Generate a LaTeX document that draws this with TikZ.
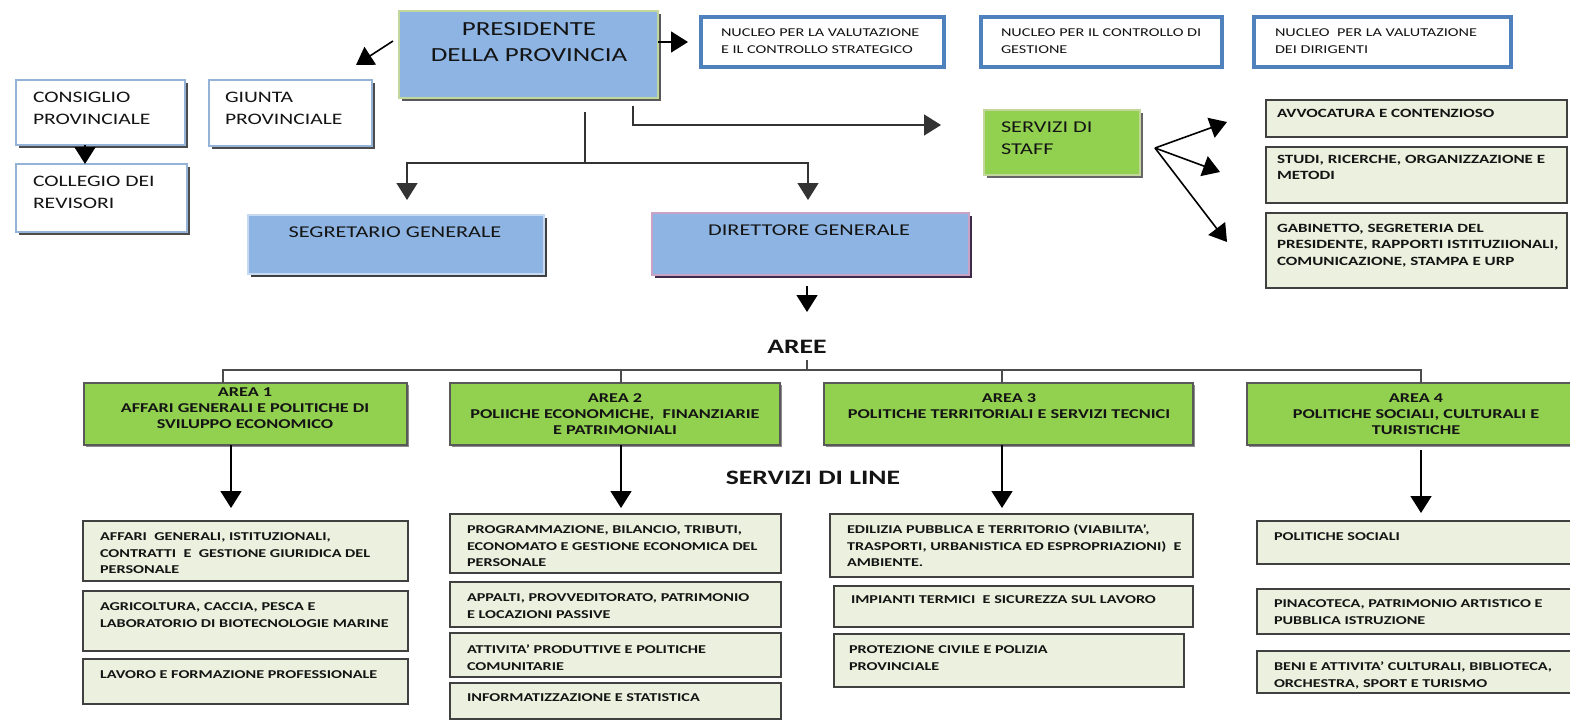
\documentclass[tikz,border=0pt]{standalone}
\usepackage{fontspec}
\setmainfont{Carlito}[FakeStretch=1.35]
\usetikzlibrary{arrows.meta,shadows,calc}
\definecolor{blueF}{HTML}{8DB4E2}
\definecolor{greenF}{HTML}{92D050}
\definecolor{paleF}{HTML}{EBF1DE}
\definecolor{nucB}{HTML}{4F81BD}
\definecolor{whB}{HTML}{95B3D7}
\definecolor{olB}{HTML}{C3D69B}
\definecolor{pinkB}{HTML}{C9A3C5}
\definecolor{segB}{HTML}{C6D9F1}
\definecolor{txt}{HTML}{141414}
\definecolor{dirS}{HTML}{3D2B4A}
\newcommand\mkbox[6]{\node[#2, minimum width={#5-#3}, minimum height={#6-#4}] (#1) at ({(#3+#5)/2},{(#4+#6)/2}) {};}
\tikzset{
  shad/.style={drop shadow={shadow xshift=2.5pt, shadow yshift=-2.5pt, fill=#1, opacity=1}},
  bluebig/.style={fill=blueF, draw=olB, line width=2pt, shad=black!65},
  segbox/.style={fill=blueF, draw=segB, line width=1.5pt, shad=black!75},
  dirbox/.style={fill=blueF, draw=pinkB, line width=1.5pt, shad=dirS},
  wbox/.style={fill=white, draw=whB, line width=1.5pt, shad=black!70},
  nbox/.style={fill=white, draw=nucB, line width=4pt},
  gbox/.style={fill=greenF, draw=olB, line width=1.5pt, shad=black!60},
  abox/.style={fill=greenF, draw=black!65, line width=1.2pt, drop shadow={shadow xshift=1.5pt, shadow yshift=-1.5pt, fill=black!45, opacity=1}},
  pbox/.style={fill=paleF, draw=black!75, line width=1.2pt},
  arr/.style={draw=black, line width=1.6pt, -{Triangle[length=17pt,width=21pt]}},
  brk/.style={draw=black!70, line width=1.4pt},
  tbig/.style={font=\fontsize{20}{26}\selectfont, align=center},
  tsixteen/.style={font=\fontsize{16}{22.5}\selectfont, align=left},
  tmid/.style={font=\fontsize{16.5}{22}\selectfont, align=center},
  tnuc/.style={font=\fontsize{12}{16.5}\selectfont, align=left},
  tstaff/.style={font=\bfseries\fontsize{12.6}{16.5}\selectfont, align=left},
  tarea/.style={font=\bfseries\fontsize{13.5}{16}\selectfont, align=center},
  tline/.style={font=\bfseries\fontsize{12}{16.5}\selectfont, align=left, yshift=-2pt},
  thead/.style={font=\bfseries\fontsize{20.5}{24}\selectfont},
}
\begin{document}
\begin{tikzpicture}[x=1pt, y=-1pt, every node/.style={inner sep=0pt, outer sep=0pt, text=txt}]
\fill[white] (0,0) rectangle (1570,720);
\useasboundingbox (0,0) rectangle (1570,720);

% ---- top level ----
\mkbox{pres}{bluebig}{399}{11}{658}{98}
\node[tbig, anchor=north] (pres-t) at (529,23) {PRESIDENTE\\DELLA PROVINCIA};

\mkbox{cons}{wbox}{16}{80}{185}{145}
\mkbox{giunta}{wbox}{209}{80}{372}{146}
\mkbox{coll}{wbox}{16}{164}{187}{232}
\node[tsixteen, anchor=north west] (cons-t) at (33,92) {CONSIGLIO\\PROVINCIALE};
\node[tsixteen, anchor=north west] (giunta-t) at (225,92) {GIUNTA\\PROVINCIALE};
\node[tsixteen, anchor=north west] (coll-t) at (33,176) {COLLEGIO DEI\\REVISORI};

\mkbox{nuc1}{nbox}{701}{17}{944}{67}
\mkbox{nuc2}{nbox}{981}{17}{1222}{67}
\mkbox{nuc3}{nbox}{1254}{17}{1511}{67}
\node[tnuc, anchor=north west] (nuc1-t) at (721,29) {NUCLEO PER LA VALUTAZIONE\\E IL CONTROLLO STRATEGICO};
\node[tnuc, anchor=north west] (nuc2-t) at (1001,29) {NUCLEO PER IL CONTROLLO DI\\GESTIONE};
\node[tnuc, anchor=north west] (nuc3-t) at (1275,29) {NUCLEO\ \ PER LA VALUTAZIONE\\DEI DIRIGENTI};

\mkbox{segr}{segbox}{248}{215}{544}{274}
\node[tmid, anchor=north] (segr-t) at (395,227) {SEGRETARIO GENERALE};
\mkbox{dir}{dirbox}{652}{213}{969}{275}
\node[tmid, anchor=north] (dir-t) at (809,225) {DIRETTORE GENERALE};

\mkbox{staff}{gbox}{984}{110}{1140}{175}
\node[tsixteen, font=\fontsize{16.5}{22}\selectfont, anchor=north west] (staff-t) at (1001,122) {SERVIZI DI\\STAFF};

\mkbox{st1}{pbox}{1266}{100}{1567}{137}
\mkbox{st2}{pbox}{1266}{147}{1567}{203}
\mkbox{st3}{pbox}{1266}{213}{1567}{288}
\node[tstaff, anchor=north west] (st1-t) at (1277,109) {AVVOCATURA E CONTENZIOSO};
\node[tstaff, anchor=north west] (st2-t) at (1277,155) {STUDI, RICERCHE, ORGANIZZAZIONE E\\METODI};
\node[tstaff, anchor=north west] (st3-t) at (1277,224) {GABINETTO, SEGRETERIA DEL\\PRESIDENTE, RAPPORTI ISTITUZIIONALI,\\COMUNICAZIONE, STAMPA E URP};

% ---- areas ----
\node[thead, anchor=north] (aree) at (797,340) {AREE};
\node[thead, anchor=north] (linea) at (813,471) {SERVIZI DI LINE};

\mkbox{a1}{abox}{84}{383}{407}{445}
\mkbox{a2}{abox}{450}{383}{780}{445}
\mkbox{a3}{abox}{824}{383}{1193}{445}
\mkbox{a4}{abox}{1247}{383}{1586}{445}
\node[tarea, anchor=north] (a1-t) at (245,388) {AREA 1\\AFFARI GENERALI E POLITICHE DI\\SVILUPPO ECONOMICO};
\node[tarea, anchor=north] (a2-t) at (615,394) {AREA 2\\POLIICHE ECONOMICHE,\ \ FINANZIARIE\\E PATRIMONIALI};
\node[tarea, anchor=north] (a3-t) at (1009,394) {AREA 3\\POLITICHE TERRITORIALI E SERVIZI TECNICI};
\node[tarea, anchor=north] (a4-t) at (1416,394) {AREA 4\\POLITICHE SOCIALI, CULTURALI E\\TURISTICHE};

% ---- line services ----
\mkbox{c11}{pbox}{83}{521}{408}{581}
\mkbox{c12}{pbox}{83}{591}{408}{651}
\mkbox{c13}{pbox}{83}{659}{408}{704}
\node[tline, anchor=north west] (c11-t) at (100,531) {AFFARI\ \ GENERALI, ISTITUZIONALI,\\CONTRATTI\ \ E\ \ GESTIONE GIURIDICA DEL\\PERSONALE};
\node[tline, anchor=north west] (c12-t) at (100,601) {AGRICOLTURA, CACCIA, PESCA E\\LABORATORIO DI BIOTECNOLOGIE MARINE};
\node[tline, anchor=north west] (c13-t) at (100,669) {LAVORO E FORMAZIONE PROFESSIONALE};

\mkbox{c21}{pbox}{450}{514}{781}{573}
\mkbox{c22}{pbox}{450}{582}{781}{627}
\mkbox{c23}{pbox}{450}{633}{781}{677}
\mkbox{c24}{pbox}{450}{683}{781}{719}
\node[tline, anchor=north west] (c21-t) at (467,524) {PROGRAMMAZIONE, BILANCIO, TRIBUTI,\\ECONOMATO E GESTIONE ECONOMICA DEL\\PERSONALE};
\node[tline, anchor=north west] (c22-t) at (467,592) {APPALTI, PROVVEDITORATO, PATRIMONIO\\E LOCAZIONI PASSIVE};
\node[tline, anchor=north west] (c23-t) at (467,643) {ATTIVITA’ PRODUTTIVE E POLITICHE\\COMUNITARIE};
\node[tline, anchor=north west] (c24-t) at (467,692) {INFORMATIZZAZIONE E STATISTICA};

\mkbox{c31}{pbox}{830}{514}{1193}{577}
\mkbox{c32}{pbox}{834}{586}{1193}{627}
\mkbox{c33}{pbox}{834}{634}{1184}{687}
\node[tline, anchor=north west] (c31-t) at (847,523) {EDILIZIA PUBBLICA E TERRITORIO (VIABILITA’,\\TRASPORTI, URBANISTICA ED ESPROPRIAZIONI)\ \ E\\AMBIENTE.};
\node[tline, anchor=north west] (c32-t) at (851,594) {IMPIANTI TERMICI\ \ E SICUREZZA SUL LAVORO};
\node[tline, anchor=north west] (c33-t) at (849,644) {PROTEZIONE CIVILE E POLIZIA\\PROVINCIALE};

\mkbox{c41}{pbox}{1257}{521}{1580}{564}
\mkbox{c42}{pbox}{1257}{589}{1580}{634}
\mkbox{c43}{pbox}{1257}{651}{1580}{693}
\node[tline, anchor=north west] (c41-t) at (1274,531) {POLITICHE SOCIALI};
\node[tline, anchor=north west] (c42-t) at (1274,598) {PINACOTECA, PATRIMONIO ARTISTICO E\\PUBBLICA ISTRUZIONE};
\node[tline, anchor=north west] (c43-t) at (1274,660) {BENI E ATTIVITA’ CULTURALI, BIBLIOTECA,\\ORCHESTRA, SPORT E TURISMO};

% ---- connectors ----
\coordinate (giuntaIn) at (356,65);
\draw[arr] ($(pres.west)+(-6,-13.5)$) -- (giuntaIn);
\coordinate (nuc1In) at (688,42);
\draw[arr] ($(pres.east)+(0,-12.5)$) -- (nuc1In);
\draw[arr] ($(cons.south)+(-15.5,0)$) -- ($(coll.north)+(-16.5,0)$);

\coordinate (presDown) at (585,112);
\coordinate (segrIn) at (407,200);
\coordinate (dirIn) at (808,200);
\draw[arr, line width=1.4pt, draw=black!80] (presDown) -- ++(0,51) -| (segrIn);
\draw[arr, line width=1.4pt, draw=black!80] (presDown) -- ++(0,51) -| (dirIn);

\coordinate (presRight) at (633,106);
\coordinate (staffIn) at (941,125);
\draw[arr, line width=1.4pt, draw=black!80] (presRight) |- (staffIn);

\coordinate (staffOut) at (1155,148);
\coordinate (st1In) at (1227,122);
\coordinate (st2In) at (1220,172);
\coordinate (st3In) at (1227,242);
\draw[arr] (staffOut) -- (st1In);
\draw[arr] (staffOut) -- (st2In);
\draw[arr] (staffOut) -- (st3In);

\coordinate (dirOut) at (807,286);
\coordinate (areeIn) at (807,312);
\draw[arr] (dirOut) -- (areeIn);

\coordinate (areeBot) at (807,360);
\draw[brk] (areeBot) -- ++(0,10);
\draw[brk] ($(a1.north)+(-22.5,0)$) |- ($(a4.north)+(4.5,-13)$) -- ($(a4.north)+(4.5,0)$);
\draw[brk] ($(a2.north)+(6,0)$) -- ++(0,-13);
\draw[brk] ($(a3.north)+(-6.5,0)$) -- ++(0,-13);

\coordinate (c11In) at (231,508);
\coordinate (c21In) at (621,508);
\coordinate (c31In) at (1002,508);
\coordinate (c41In) at (1421,513);
\draw[arr] ($(a1.south)+(-14.5,0)$) -- (c11In);
\draw[arr] ($(a2.south)+(6,0)$) -- (c21In);
\draw[arr] ($(a3.south)+(-6.5,0)$) -- (c31In);
\draw[arr] ($(a4.south)+(4.5,5)$) -- (c41In);
\end{tikzpicture}
\end{document}
